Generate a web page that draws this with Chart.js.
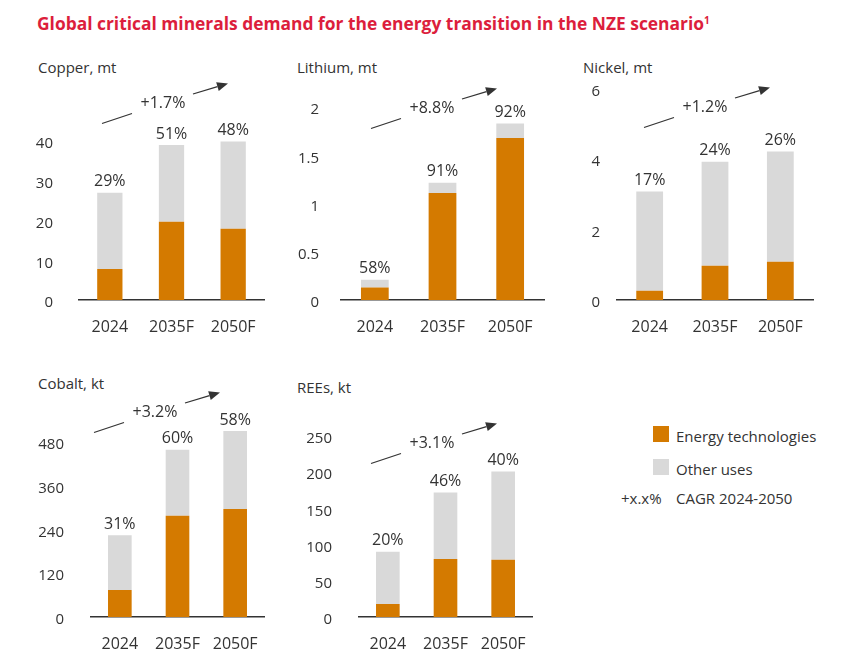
<!DOCTYPE html>
<html>
<head>
<meta charset="utf-8">
<script src="https://cdn.jsdelivr.net/npm/chart.js@4.4.1/dist/chart.umd.min.js"></script>
<style>
  body { margin: 0; background: #fff; font-family: 'Open Sans', sans-serif; color: #333; }
  #page { position: relative; width: 847px; height: 663px; overflow: hidden; }
  #title { position: absolute; left: 37px; top: 8px; font-weight: 700; font-size: 17.4px; line-height: 24px; color: #dc1e3c; white-space: nowrap; }
  #title sup { font-size: 10px; vertical-align: 6px; }
  .ptitle { position: absolute; font-size: 15px; line-height: 20px; white-space: nowrap; }
  canvas { position: absolute; }
  .sw { position: absolute; width: 16px; height: 16px; }
  .lt { position: absolute; font-size: 15px; line-height: 20px; white-space: nowrap; }
</style>
</head>
<body>
<div id="page">
  <div id="title">Global critical minerals demand for the energy transition in the NZE scenario<sup>1</sup></div>
  <div class="sw" style="left:653px; top:426px; background:#d47a00;"></div>
  <div class="lt" style="left:676px; top:426px;">Energy technologies</div>
  <div class="sw" style="left:653px; top:459px; background:#d9d9d9;"></div>
  <div class="lt" style="left:676px; top:459px;">Other uses</div>
  <div class="lt" style="left:621px; top:488px;">+x.x%</div>
  <div class="lt" style="left:676px; top:488px;">CAGR 2024-2050</div>
</div>
<script>
const years = ["2024", "2035F", "2050F"];

const copperEnergy = [7.8, 19.7, 17.9];
const copperOther = [19.2, 19.3, 22.0];
const copperShare = ["29%", "51%", "48%"];
const copperTicks = [0, 10, 20, 30, 40];

const lithiumEnergy = [0.13, 1.11, 1.68];
const lithiumOther = [0.08, 0.105, 0.15];
const lithiumShare = ["58%", "91%", "92%"];
const lithiumTicks = [0, 0.5, 1, 1.5, 2];

const nickelEnergy = [0.26, 0.97, 1.09];
const nickelOther = [2.82, 2.96, 3.13];
const nickelShare = ["17%", "24%", "26%"];
const nickelTicks = [0, 2, 4, 6];

const cobaltEnergy = [74, 277, 296];
const cobaltOther = [150, 181, 213];
const cobaltShare = ["31%", "60%", "58%"];
const cobaltTicks = [0, 120, 240, 360, 480];

const reesEnergy = [18, 80, 79];
const reesOther = [72, 92, 122];
const reesShare = ["20%", "46%", "40%"];
const reesTicks = [0, 50, 100, 150, 200, 250];

const cagrLabels = ["+1.7%", "+8.8%", "+1.2%", "+3.2%", "+3.1%"];

const orange = "#d47a00";
const grey = "#d9d9d9";
const ink = "#333333";

Chart.defaults.font.family = "'Open Sans', sans-serif";
Chart.defaults.font.size = 15;
Chart.defaults.color = ink;

// layout of each small multiple (page pixels)
const panels = [
  { title: "Copper, mt", energy: copperEnergy, other: copperOther, share: copperShare, ticks: copperTicks, cagr: cagrLabels[0],
    box: [20, 75, 260, 275], axisL: 79, axisR: 264, zeroY: 300, yMax: 50, ppu: 3.975, tickPad: 26, titleAt: [38, 67], cagrAt: [163, 103] },
  { title: "Lithium, mt", energy: lithiumEnergy, other: lithiumOther, share: lithiumShare, ticks: lithiumTicks, cagr: cagrLabels[1],
    box: [290, 75, 265, 275], axisL: 341, axisR: 544, zeroY: 300, yMax: 2.2, ppu: 96.5, tickPad: 22, titleAt: [297, 67], cagrAt: [432, 108] },
  { title: "Nickel, mt", energy: nickelEnergy, other: nickelOther, share: nickelShare, ticks: nickelTicks, cagr: cagrLabels[2],
    box: [565, 75, 270, 275], axisL: 617, axisR: 813, zeroY: 300, yMax: 6.2, ppu: 35.2, tickPad: 17, titleAt: [583, 67], cagrAt: [705, 107] },
  { title: "Cobalt, kt", energy: cobaltEnergy, other: cobaltOther, share: cobaltShare, ticks: cobaltTicks, cagr: cagrLabels[3],
    box: [20, 385, 260, 275], axisL: 91, axisR: 264, zeroY: 617, yMax: 560, ppu: 0.3652, tickPad: 27, titleAt: [38, 383], cagrAt: [155, 412] },
  { title: "REEs, kt", energy: reesEnergy, other: reesOther, share: reesShare, ticks: reesTicks, cagr: cagrLabels[4],
    box: [290, 385, 260, 275], axisL: 359, axisR: 532, zeroY: 617, yMax: 280, ppu: 0.724, tickPad: 27, titleAt: [297, 387], cagrAt: [432, 443] }
];

const decorations = {
  id: "decorations",
  afterDatasetsDraw(chart, args, opts) {
    const p = opts.panel;
    const ctx = chart.ctx;
    const topMeta = chart.getDatasetMeta(1);
    ctx.save();
    ctx.fillStyle = ink;
    ctx.strokeStyle = ink;
    ctx.font = "16px 'Open Sans', sans-serif";
    ctx.textAlign = "center";
    ctx.textBaseline = "middle";
    topMeta.data.forEach(function(bar, i) {
      ctx.fillText(p.share[i], bar.x, bar.y - 11);
    });

    // CAGR label with its arrow
    const cx = p.cagrAt[0] - p.box[0];
    const cy = p.cagrAt[1] - p.box[1];
    ctx.fillText(p.cagr, cx, cy);
    ctx.lineWidth = 1.3;
    ctx.beginPath();
    ctx.moveTo(cx - 61, cy + 20.5);
    ctx.lineTo(cx - 31, cy + 10.5);
    ctx.stroke();
    const x1 = cx + 30, y1 = cy - 9, x2 = cx + 65, y2 = cy - 19.5;
    const a = Math.atan2(y2 - y1, x2 - x1);
    const hl = 11, hw = 4.5;
    const bx = x2 - hl * Math.cos(a), by = y2 - hl * Math.sin(a);
    ctx.beginPath();
    ctx.moveTo(x1, y1);
    ctx.lineTo(bx, by);
    ctx.stroke();
    ctx.beginPath();
    ctx.moveTo(x2, y2);
    ctx.lineTo(bx + hw * Math.sin(a), by - hw * Math.cos(a));
    ctx.lineTo(bx - hw * Math.sin(a), by + hw * Math.cos(a));
    ctx.closePath();
    ctx.fill();
    ctx.restore();
  }
};

function noPadding(s) {
  s.paddingTop = 0;
  s.paddingBottom = 0;
  s.paddingLeft = 0;
  s.paddingRight = 0;
}

const page = document.getElementById("page");

panels.forEach(function(p) {
  const t = document.createElement("div");
  t.className = "ptitle";
  t.textContent = p.title;
  t.style.left = p.titleAt[0] + "px";
  t.style.top = (p.titleAt[1] - 10) + "px";
  page.appendChild(t);

  const c = document.createElement("canvas");
  c.width = p.box[2];
  c.height = p.box[3];
  c.style.left = p.box[0] + "px";
  c.style.top = p.box[1] + "px";
  c.style.width = p.box[2] + "px";
  c.style.height = p.box[3] + "px";
  page.appendChild(c);

  const padTop = (p.zeroY - p.yMax * p.ppu) - p.box[1];
  const padRight = (p.box[0] + p.box[2]) - p.axisR;
  const xHeight = (p.box[1] + p.box[3]) - p.zeroY;
  const yWidth = p.axisL - p.box[0];

  new Chart(c, {
    type: "bar",
    data: {
      labels: years,
      datasets: [
        { label: "Energy technologies", data: p.energy, backgroundColor: orange, barPercentage: 0.41, categoryPercentage: 1 },
        { label: "Other uses", data: p.other, backgroundColor: grey, barPercentage: 0.41, categoryPercentage: 1 }
      ]
    },
    options: {
      responsive: false,
      animation: false,
      devicePixelRatio: 1,
      layout: { padding: { top: padTop, right: padRight, left: 0, bottom: 0 } },
      plugins: {
        legend: { display: false },
        tooltip: { enabled: false },
        decorations: { panel: p }
      },
      scales: {
        x: {
          stacked: true,
          grid: { display: false, drawTicks: false },
          border: { display: true, color: ink, width: 1.5 },
          ticks: { padding: 18, color: ink, font: { size: 16 } },
          afterFit: function(s) { s.height = xHeight; noPadding(s); }
        },
        y: {
          stacked: true,
          min: 0,
          max: p.yMax,
          grid: { display: false, drawTicks: false },
          border: { display: false },
          ticks: { padding: p.tickPad, labelOffset: 3, color: ink, callback: function(v) { return String(v); } },
          afterBuildTicks: function(s) { s.ticks = p.ticks.map(function(v) { return { value: v }; }); },
          afterFit: function(s) { s.width = yWidth; noPadding(s); }
        }
      }
    },
    plugins: [decorations]
  });
});
</script>
</body>
</html>
